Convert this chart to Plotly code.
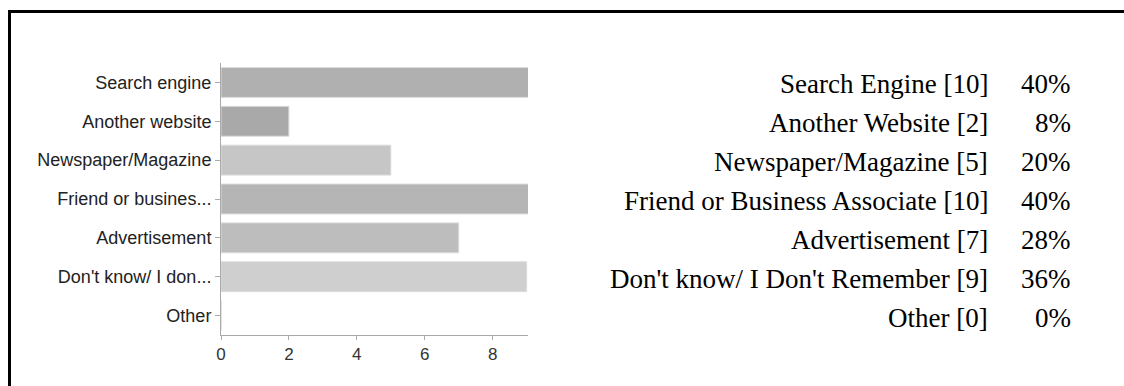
import plotly.graph_objects as go

# Survey: how respondents heard about us
bar_labels = ["Search engine", "Another website", "Newspaper/Magazine",
              "Friend or busines...", "Advertisement", "Don't know/ I don...", "Other"]
full_labels = ["Search Engine", "Another Website", "Newspaper/Magazine",
               "Friend or Business Associate", "Advertisement",
               "Don't know/ I Don't Remember", "Other"]
counts = [10, 2, 5, 10, 7, 9, 0]
percents = ["40%", "8%", "20%", "40%", "28%", "36%", "0%"]
x_ticks = [0, 2, 4, 6, 8]
bar_colors = ["#b0b0b0", "#a9a9a9", "#c6c6c6", "#b5b5b5", "#bdbdbd", "#cfcfcf", "#cccccc"]

W, H = 1124, 386
ML, MR, MT, MB = 221, 596, 63, 51
PW, PH = W - ML - MR, H - MT - MB


def px_x(px):
    return (px - ML) / PW


def px_y(py):
    return (H - MB - py) / PH


fig = go.Figure(go.Bar(
    x=counts,
    y=bar_labels,
    orientation="h",
    marker=dict(color=bar_colors, line=dict(color="#dcdcdc", width=1)),
    width=0.77,
    hoverinfo="x+y",
))

annotations = []
for lab, full, n, pct in zip(bar_labels, full_labels, counts, percents):
    annotations.append(dict(
        x=px_x(990), xref="paper", y=lab, yref="y", xanchor="right", yanchor="middle",
        text=f"{full} [{n}]", showarrow=False, yshift=-2,
        font=dict(family="Liberation Serif", size=27, color="#000"),
    ))
    annotations.append(dict(
        x=px_x(1073), xref="paper", y=lab, yref="y", xanchor="right", yanchor="middle",
        text=pct, showarrow=False, yshift=-2,
        font=dict(family="Liberation Serif", size=27, color="#000"),
    ))

# frame: filled bars along the top and left edges
shapes = [
    dict(type="rect", xref="paper", yref="paper", layer="above",
         x0=px_x(8), x1=px_x(W), y0=px_y(13), y1=px_y(10),
         fillcolor="#000", line=dict(width=0)),
    dict(type="rect", xref="paper", yref="paper", layer="above",
         x0=px_x(8), x1=px_x(11), y0=px_y(H), y1=px_y(10),
         fillcolor="#000", line=dict(width=0)),
]

fig.update_layout(
    width=W, height=H,
    margin=dict(l=ML, r=MR, t=MT, b=MB),
    paper_bgcolor="#fff", plot_bgcolor="#fff",
    showlegend=False,
    annotations=annotations,
    shapes=shapes,
    xaxis=dict(range=[0, 9.04], tickvals=x_ticks, showgrid=False, zeroline=False,
               showline=True, linecolor="#aaaaaa", linewidth=1,
               ticks="outside", ticklen=4, tickcolor="#aaaaaa",
               tickfont=dict(family="Liberation Sans", size=17, color="#333")),
    yaxis=dict(autorange="reversed", showgrid=False, zeroline=False,
               showline=True, linecolor="#aaaaaa", linewidth=1,
               ticks="outside", ticklen=5, tickcolor="#aaaaaa", ticklabelstandoff=0,
               tickfont=dict(family="Liberation Sans", size=18, color="#222")),
)

fig.write_html(
    "out.html",
    config={"displayModeBar": False},
    post_script="document.body.style.margin='0';document.body.style.overflow='hidden';",
)
